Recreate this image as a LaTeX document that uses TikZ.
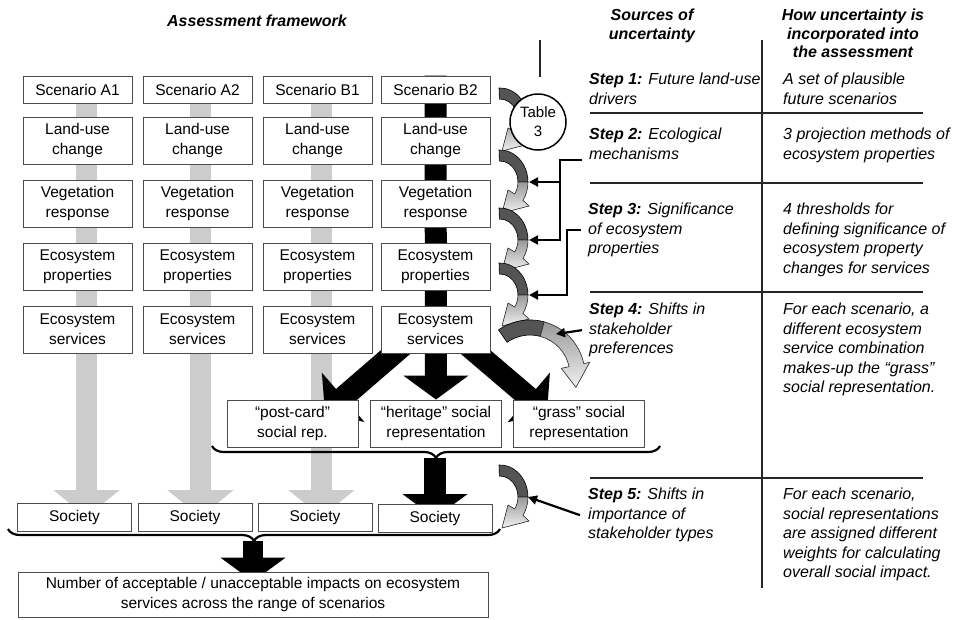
\documentclass[tikz,border=0pt]{standalone}
\usepackage{fontspec}
\setmainfont{Liberation Sans}
\usetikzlibrary{arrows.meta,decorations.pathreplacing,backgrounds}

\definecolor{barGray}{gray}{0.80}
\definecolor{arcDark}{gray}{0.33}
\definecolor{frameGray}{gray}{0.30}

\begin{document}
\begin{tikzpicture}[x=1pt, y=-1pt,
    stagebox/.style={draw=frameGray, line width=0.9pt, fill=white, minimum width=109pt,
        minimum height=47pt, inner sep=0pt, align=center, font=\fontsize{15.5}{20}\selectfont},
    scenbox/.style={stagebox, minimum height=27pt},
    socbox/.style={stagebox, minimum width=114pt, minimum height=28pt},
    repbox/.style={stagebox, minimum width=131pt},
    headnote/.style={anchor=north, inner sep=0pt, align=center,
        font=\fontsize{16}{18.5}\selectfont\bfseries\itshape},
    stepnote/.style={anchor=north west, inner sep=0pt, align=left,
        font=\fontsize{16}{19.5}\selectfont\itshape},
    grayarrow/.style={draw=barGray, line width=21pt, -{Triangle[width=65pt,length=27pt]}},
    blackarrow/.style={draw=black, line width=22pt, -{Triangle[width=64pt,length=24pt]}},
    bracket/.style={draw=black, line width=2.2pt, decorate, decoration={brace, amplitude=12pt}},
    arcdark/.style={fill=arcDark, draw=black, line width=0.6pt},
    arclight/.style={top color=black!40, bottom color=black!6, draw=black!80, line width=0.6pt},
    tableline/.style={draw=black!85, line width=2.2pt},
    stepline/.style={draw=black, line width=2.2pt, -{Triangle[length=9pt,width=9pt]}}]

\useasboundingbox (0,0) rectangle (957,619);

\node[headnote] (hdFw) at (257,15) {Assessment framework};

% ── FRAMEWORK BOXES ────────────────────────────────────────────────
\foreach \c/\x in {A1/77.5, A2/197.5, B1/317.5, B2/435.5} {
    \node[scenbox] (sc\c) at (\x,89.5) {Scenario \c};
    \node[stagebox] (lu\c) at (\x,140.5) {Land-use\\change};
    \node[stagebox] (vr\c) at (\x,203.5) {Vegetation\\response};
    \node[stagebox] (ep\c) at (\x,266.5) {Ecosystem\\properties};
    \node[stagebox] (es\c) at (\x,329.5) {Ecosystem\\services};
}
\foreach \c/\x/\y in {A1/74.5/517, A2/195/517, B1/315/517, B2/435/518}
    \node[socbox] (so\c) at (\x,\y) {Society};

% Social representations
\node[repbox] (pc) at (292.5,423.5) {“post-card”\\social rep.};
\node[repbox] (hr) at (436,423.5) {“heritage” social\\representation};
\node[repbox] (gr) at (579,423.5) {“grass” social\\representation};

\node[stagebox, minimum width=470pt, minimum height=45pt] (imp) at (253,594.5)
    {Number of acceptable / unacceptable impacts on ecosystem\\services across the range of scenarios};

% Braces
\draw[bracket] (660,446) -- (212,446);
\coordinate (tipSoc) at (435,458);
\draw[bracket] (500,529) -- (8,529);
\coordinate (tipAll) at (253,541);

\coordinate (tipL) at (325,413);
\coordinate (tipR) at (547,413);

% Column flows (behind the boxes)
\begin{pgfonlayer}{background}
\foreach \c/\dx in {A1/9, A2/3, B1/4}
    \draw[grayarrow] ([xshift=\dx pt]sc\c.north) -- ([xshift=\dx pt]sc\c.north |- so\c.center);
\draw[blackarrow] (scB2.north) -- (hr.north);
\draw[blackarrow] ([xshift=-30pt,yshift=10pt]esB2.south) -- (tipL);
\draw[blackarrow] ([xshift=30pt,yshift=10pt]esB2.south) -- (tipR);
\draw[blackarrow] (tipSoc) -- (soB2.center);
\draw[blackarrow, line width=20pt] (tipAll) -- ([yshift=-10pt]tipAll |- imp.north);
\end{pgfonlayer}

% ── CURVED ARROWS ──────────────────────────────────────────────────
\foreach \t in {88,150,208,263,465} {
    \begin{scope}[shift={(500,\t)}]
        \filldraw[arcdark] (-1,0) arc[start angle=268, end angle=360, x radius=28, y radius=32]
            -- (18,32) arc[start angle=0, end angle=-92, x radius=18, y radius=21] -- cycle;
        \filldraw[arclight] (28,32) arc[start angle=0, end angle=35, x radius=28, y radius=32]
            -- (29,56) -- (2,63) -- (8,40) -- (14.7,44)
            arc[start angle=35, end angle=0, x radius=18, y radius=21] -- cycle;
    \end{scope}
}

% big one towards the "grass" representation
\filldraw[arcdark] (498.5,329.9) arc[start angle=235, end angle=285, radius=55]
    -- (540.4,336.4) arc[start angle=285, end angle=235, radius=40] -- cycle;
\filldraw[arclight] (544.2,321.9) arc[start angle=285, end angle=348, radius=55]
    -- (589.7,362.3) -- (575.9,387.3) -- (561.3,368.3) -- (569.1,366.7)
    arc[start angle=348, end angle=285, radius=40] -- cycle;

\node[draw=black, line width=1.5pt, fill=white, circle, minimum size=56pt, inner sep=0pt,
    align=center, font=\fontsize{15}{19}\selectfont] (tab3) at (538,122) {Table\\3};

% ── UNCERTAINTY TABLE ──────────────────────────────────────────────
\draw[tableline] (540,40) -- (540,77);
\draw[tableline] (762,40) -- (762,588);
\foreach \y in {113,183,292,478}
    \draw[tableline] (590,\y) -- (923,\y);

\node[headnote] (hdSrc) at (652,9) {Sources of\\uncertainty};
\node[headnote] (hdHow) at (853,9) {How uncertainty is\\incorporated into\\the assessment};

\node[stepnote] (st1) at (589,73) {\textbf{Step 1:} Future land-use\\drivers};
\node[stepnote] (st2) at (589,128) {\textbf{Step 2:} Ecological\\mechanisms};
\node[stepnote] (st3) at (588,203) {\textbf{Step 3:} Significance\\of ecosystem\\properties};
\node[stepnote] (st4) at (589,303) {\textbf{Step 4:} Shifts in\\stakeholder\\preferences};
\node[stepnote] (st5) at (588,488) {\textbf{Step 5:} Shifts in\\importance of\\stakeholder types};

\node[stepnote] (ho1) at (783,73) {A set of plausible\\future scenarios};
\node[stepnote] (ho2) at (783,128) {3 projection methods of\\ecosystem properties};
\node[stepnote] (ho3) at (783,203) {4 thresholds for\\defining significance of\\ecosystem property\\changes for services};
\node[stepnote] (ho4) at (783,303) {For each scenario, a\\different ecosystem\\service combination\\makes-up the “grass”\\social representation.};
\node[stepnote] (ho5) at (783,488) {For each scenario,\\social representations\\are assigned different\\weights for calculating\\overall social impact.};

% Pointers to the curved arrows
\coordinate (hit2) at (529,182);
\coordinate (hit3) at (529,240);
\coordinate (hit4) at (529,295);
\coordinate (hit5) at (556,334);
\coordinate (hit6) at (528,497);

\draw[stepline] ([xshift=-7pt]st2.south west) -- ++(-22,0) |- (hit3);
\draw[stepline] ([xshift=-29pt]st2.south west) |- (hit2);
\draw[stepline] ([xshift=-7pt]st3.west) -- ++(-14,0) |- (hit4);
\draw[stepline] ([xshift=-7pt]st4.west) -- (hit5);
\draw[stepline] ([xshift=-8pt]st5.west) -- (hit6);

\end{tikzpicture}
\end{document}
